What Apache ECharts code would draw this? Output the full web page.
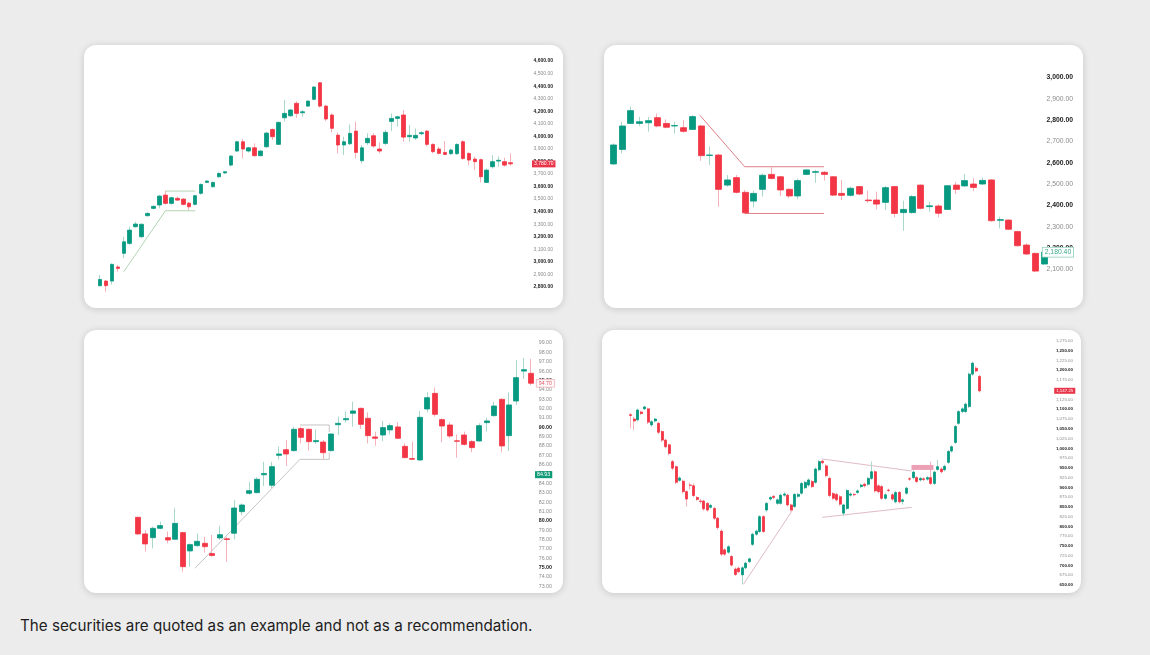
<!DOCTYPE html>
<html>
<head>
<meta charset="utf-8">
<title>Chart patterns</title>
<script src="https://cdn.jsdelivr.net/npm/echarts@6/dist/echarts.min.js"></script>
<style>
  body { margin:0; width:1150px; height:655px; background:#ececec; overflow:hidden;
         font-family: Inter, 'Liberation Sans', sans-serif; }
  .card { position:absolute; width:479px; height:263px; background:#fff; border-radius:12px;
          box-shadow:0 1px 7px rgba(0,0,0,0.16); overflow:hidden; }
  #note { position:absolute; left:20px; top:616px; font-size:15.2px; color:#1d1d1d; }
</style>
</head>
<body>
<div class="card" id="c1" style="left:84px;top:45px"></div>
<div class="card" id="c2" style="left:604px;top:45px"></div>
<div class="card" id="c3" style="left:84px;top:330px"></div>
<div class="card" id="c4" style="left:602px;top:330px"></div>
<div id="note">The securities are quoted as an example and not as a recommendation.</div>
<script type="text/javascript">
// candles are [open, close, low, high], one per session
var p1Candles = [
  [2810,2860,2802,2895],[2847,2810,2762,2855],[2847,2980,2820,2988],[2959,2948,2921,2975],
  [3068,3160,3028,3200],[3147,3253,3134,3280],[3280,3301,3272,3320],[3200,3299,3192,3307],
  [3368,3386,3360,3395],[3426,3442,3418,3450],[3453,3524,3426,3535],[3532,3466,3458,3567],
  [3466,3511,3455,3518],[3506,3492,3485,3520],[3500,3458,3450,3508],[3468,3439,3413,3475],
  [3458,3527,3450,3535],[3546,3617,3535,3625],[3633,3644,3628,3650],[3599,3633,3590,3640],
  [3678,3705,3670,3712],[3708,3718,3703,3722],[3771,3843,3760,3850],[3883,3957,3875,3965],
  [3957,3899,3824,3978],[3883,3909,3870,3915],[3909,3846,3838,3944],[3846,3883,3840,3890],
  [3917,4026,3910,4035],[4055,3997,3971,4063],[3936,4111,3931,4117],[4148,4183,4117,4289],
  [4164,4210,4155,4220],[4263,4183,4148,4281],[4188,4196,4156,4210],[4241,4281,4235,4290],
  [4295,4393,4288,4400],[4427,4241,4230,4432],[4241,4138,4122,4250],[4170,4064,4032,4183],
  [4010,3931,3864,4032],[3931,3957,3851,3997],[3941,4024,3931,4095],[4042,3872,3824,4117],
  [3806,3909,3785,3931],[3949,3984,3931,4024],[4005,3923,3909,4024],[3899,3883,3864,3952],
  [3944,4032,3931,4050],[4119,4143,4042,4183],[4143,4156,4077,4164],[4170,3994,3957,4210],
  [3997,4008,3957,4090],[3987,4008,3971,4063],[4021,4029,4008,4042],[4042,3936,3920,4050],
  [3936,3878,3864,3944],[3899,3864,3856,3917],[3872,3856,3851,3963],[3862,3891,3851,3904],
  [3862,3936,3851,3944],[3957,3824,3811,3970],[3864,3811,3771,3872],[3819,3798,3731,3838],
  [3814,3678,3633,3824],[3633,3731,3628,3744],[3758,3798,3744,3851],[3803,3809,3758,3840],
  [3798,3771,3758,3830],[3790,3781,3766,3864]
];
var p1Lines = [ [[4,2921],[11,3407],[16,3407]], [[11,3540],[11,3564],[16,3564]] ];
var p1Last = 3780.70;

var p2Candles = [
  [2594,2683,2589,2690],[2662,2772,2644,2792],[2784,2844,2781,2862],[2784,2792,2772,2815],
  [2787,2797,2745,2815],[2811,2772,2766,2831],[2784,2766,2761,2803],[2772,2774,2737,2792],
  [2764,2747,2740,2800],[2756,2816,2753,2823],[2772,2633,2609,2777],[2634,2636,2589,2675],
  [2636,2475,2394,2640],[2495,2519,2487,2542],[2530,2461,2456,2542],[2461,2365,2362,2472],
  [2420,2456,2390,2469],[2475,2541,2441,2550],[2545,2526,2522,2581],[2534,2472,2444,2537],
  [2475,2444,2433,2480],[2444,2516,2428,2526],[2545,2566,2542,2569],[2555,2558,2506,2566],
  [2555,2545,2516,2561],[2534,2448,2444,2537],[2456,2447,2425,2519],[2447,2480,2441,2488],
  [2488,2453,2448,2491],[2425,2422,2412,2469],[2425,2406,2381,2464],[2414,2483,2378,2491],
  [2488,2362,2344,2491],[2366,2381,2281,2422],[2366,2441,2361,2448],[2495,2386,2381,2498],
  [2394,2398,2370,2417],[2397,2363,2344,2406],[2381,2492,2378,2495],[2495,2475,2453,2511],
  [2491,2516,2487,2547],[2500,2484,2467,2527],[2500,2517,2495,2531],[2519,2328,2323,2522],
  [2330,2333,2292,2347],[2331,2288,2284,2334],[2277,2211,2206,2281],[2214,2172,2167,2222],
  [2175,2092,2087,2178],[2125,2180,2120,2185]
];
var p2Lines = [ [[9.86,2822],[14.95,2581],[23.97,2581]], [[14.95,2362],[23.97,2362]] ];
var p2Last = 2180.40;

var p3Candles = [
  [80.38,78.6,78.5,80.4],[78.6,77.53,76.71,79.02],[78.2,79.2,77.06,79.38],[79.2,79.49,79.1,79.91],
  [78.2,77.95,77.6,78.85],[78.03,79.73,77.96,81.34],[78.74,75.1,74.57,78.85],[76.78,77.46,75.1,77.6],
  [77.35,77.81,77.24,78.67],[77.6,77.24,76.6,78.3],[76.5,76.3,76.17,78.49],[78.17,78.52,77.95,79.49],
  [78.08,78.0,75.64,78.3],[78.67,81.37,78.03,82.23],[80.98,81.69,80.6,81.87],[82.94,83.22,82.77,84.19],
  [83.01,84.44,82.94,84.65],[84.92,85.06,83.72,86.32],[83.8,85.79,83.5,86.32],[87.0,87.14,86.57,87.93],
  [87.6,87.14,85.86,88.64],[87.5,89.78,87.4,90.06],[89.85,88.92,88.28,90.06],[89.78,88.46,87.5,89.88],
  [88.46,88.57,88.21,89.78],[88.42,87.28,86.57,88.64],[87.5,89.28,87.4,89.35],[90.27,90.42,89.17,91.13],
  [90.8,90.92,90.49,91.66],[91.49,91.74,90.06,92.73],[92.02,90.31,89.81,92.09],[90.95,89.1,88.28,91.59],
  [88.96,88.82,88.03,89.53],[89.17,89.96,88.53,90.67],[89.71,90.17,89.24,90.42],[90.03,88.82,88.75,90.52],
  [87.96,86.75,86.68,88.28],[86.65,86.58,86.5,88.46],[86.5,91.06,86.4,91.74],[91.95,93.16,91.59,93.73],
  [93.62,91.38,91.13,94.23],[90.81,90.13,88.39,90.95],[90.24,89.06,88.81,90.52],[88.55,88.5,86.75,89.24],
  [89.17,88.17,88.03,89.53],[88.46,87.82,87.32,88.64],[88.53,90.17,88.46,90.42],[90.49,90.67,89.53,91.02],
  [91.24,92.27,91.13,92.73],[92.98,88.0,87.32,93.09],[89.1,92.38,87.46,93.73],[92.8,95.3,92.38,97.18],
  [96.0,96.15,95.16,97.43],[95.76,94.7,94.51,97.29]
];
var p3Lines = [ [[7.68,74.93],[21.83,86.57],[25.78,86.57],[25.78,87.3]], [[21.83,90.24],[25.78,90.24],[25.78,89.5]] ];
var p3Last = 94.70;
var p3Ref = 84.93;

var p4Candles = [
  [1086,1084,1051,1090],[1075,1070,1047,1080],[1073,1098,1068,1102],[1093,1089,1085,1096],
  [1101,1106,1098,1108],[1101,1067,1062,1104],[1060,1068,1055,1072],[1070,1075,1066,1078],
  [1064,1041,1036,1068],[1043,1021,1016,1046],[1021,1004,1000,1024],[1009,987,982,1012],
  [966,949,944,970],[953,913,908,956],[918,924,914,928],[916,889,884,920],
  [889,870,851,893],[906,905,895,912],[904,879,875,910],[874,869,866,878],
  [865,864,858,870],[865,845,840,868],[859,842,838,862],[849,854,845,857],
  [846,821,816,850],[821,797,792,824],[788,729,724,792],[740,729,724,744],
  [734,748,730,752],[723,701,697,726],[691,677,673,695],[693,684,680,697],
  [676,694,652,698],[694,706,690,710],[710,717,706,720],[754,780,750,784],
  [780,788,776,792],[787,825,783,829],[825,787,783,829],[842,859,838,863],
  [870,874,866,878],[877,874,870,880],[859,868,855,872],[859,880,855,884],
  [880,883,876,888],[880,855,851,884],[855,842,838,858],[851,882,847,886],
  [877,882,873,886],[885,910,881,914],[899,913,895,917],[906,919,902,923],
  [915,902,898,919],[913,947,909,951],[945,966,941,970],[967,963,959,971],
  [955,930,926,959],[923,879,875,927],[884,872,868,888],[882,868,864,886],
  [876,857,853,880],[834,855,826,858],[846,892,842,896],[880,883,876,887],
  [882,881,877,886],[887,891,883,895],[902,906,898,910],[908,904,900,912],
  [908,923,904,927],[923,940,919,966],[940,891,887,944],[904,889,885,908],
  [902,872,868,906],[872,881,868,885],[893,892,888,897],[881,870,866,885],
  [863,887,859,891],[887,863,859,891],[864,868,856,872],[885,898,881,902],
  [922,921,917,926],[925,939,921,943],[925,915,911,929],[919,923,915,927],
  [922,920,916,926],[921,925,917,929],[925,910,906,966],[910,939,906,943],
  [946,953,942,970],[947,940,936,951],[945,954,941,958],[964,992,960,996],
  [993,1004,989,1008],[1015,1056,1011,1060],[1064,1094,1060,1098],[1094,1101,1090,1105],
  [1094,1113,1090,1117],[1107,1190,1103,1194],[1190,1218,1186,1222],[1205,1198,1194,1210],
  [1184,1147,1143,1188]
];
var p4Lines = [ [[32.3,651.8],[46.4,842.1]], [[54.9,972.6],[80.5,942]], [[54.9,823.3],[80.5,848.9]] ];
var p4Box = [83.6, 951];
var p4Last = 1147.25;

var UP = '#089981', DN = '#f23645';
var WICK_UP = '#a9d8cb', WICK_DN = '#f5b0b8';

function fmt(v) {
  return v.toLocaleString('en-US', { minimumFractionDigits: 2, maximumFractionDigits: 2 });
}

// price tag drawn on the right axis at a given value
function tag(value, style, dist) {
  return {
    yAxis: value,
    lineStyle: { color: 'rgba(0,0,0,0)', width: 0 },
    label: Object.assign({ show: true, position: 'end', distance: dist, formatter: fmt(value),
      fontFamily: 'Liberation Sans', padding: [1, 2], opacity: 1 }, style)
  };
}

function makeChart(id, c) {
  var chart = echarts.init(document.getElementById(id), null, { renderer: 'canvas' });
  var wick = c.candles.map(function (r, i) { return [i, r[0], r[1], r[2], r[3]]; });
  var body = c.candles.map(function (r, i) {
    return [i, r[0], r[1], Math.min(r[0], r[1]), Math.max(r[0], r[1])];
  });
  var series = c.lines.map(function (pts) {
    return { type: 'line', data: pts, symbol: 'none', silent: true, z: 1,
             lineStyle: { color: c.lineColor, width: 0.9 } };
  });
  series.push({
    type: 'candlestick', data: wick, barWidth: 1, z: 2,
    itemStyle: { color: WICK_UP, color0: WICK_DN, borderColor: WICK_UP, borderColor0: WICK_DN, borderWidth: 1 }
  });
  series.push({
    type: 'candlestick', data: body, barWidth: c.bodyWidth, z: 3, clip: false,
    itemStyle: { color: UP, color0: DN, borderColor: UP, borderColor0: DN, borderWidth: 0.8 },
    markLine: {
      symbol: 'none', silent: true, animation: false,
      lineStyle: { color: 'rgba(0,0,0,0)', width: 0 },
      data: c.tags
    },
    markPoint: c.markPoint
  });
  chart.setOption({
    animation: false,
    grid: c.grid,
    xAxis: { type: 'value', min: c.x[0], max: c.x[1], show: false },
    yAxis: {
      type: 'value', position: 'right', min: c.y[0], max: c.y[1], interval: c.y[2],
      axisLine: { show: false }, axisTick: { show: false }, splitLine: { show: false },
      axisLabel: {
        margin: c.labelMargin, align: 'right',
        showMaxLabel: c.showMax, showMinLabel: c.showMin,
        formatter: function (v) {
          return (Math.round(v * 100) % Math.round(c.boldStep * 100) === 0 ? '{b|' : '{n|') + fmt(v) + '}';
        },
        rich: {
          b: { fontFamily: 'Liberation Sans', fontWeight: 'bold', color: '#222', fontSize: c.fontSize },
          n: { fontFamily: 'Liberation Sans', color: '#8c8c8c', fontSize: c.fontSize }
        }
      }
    },
    series: series
  });
}

makeChart('c1', {
  candles: p1Candles, lines: p1Lines, lineColor: '#a9cfa9', bodyWidth: 4,
  grid: { left: 10, right: 46.5, top: 3.5, bottom: 8.5 },
  x: [-1, 70], y: [2700, 4700, 100], boldStep: 200, fontSize: 5, labelMargin: 36.5,
  showMax: false, showMin: false,
  tags: [tag(p1Last, { color: '#fff', backgroundColor: '#e8354a', fontSize: 5 }, 15.5)]
});

makeChart('c2', {
  candles: p2Candles, lines: p2Lines, lineColor: '#d9707c', bodyWidth: 6.5,
  grid: { left: 4.9, right: 34.6, top: 11, bottom: 17.3 },
  x: [-0.5, 49.5], y: [2000, 3100, 100], boldStep: 200, fontSize: 6.8, labelMargin: 24.6,
  showMax: false, showMin: false,
  tags: [tag(p2Last, { color: '#3aa88a', backgroundColor: '#fff', borderColor: '#8fd0bd',
    borderWidth: 0.8, fontSize: 6.8 }, -5.7)]
});

makeChart('c3', {
  candles: p3Candles, lines: p3Lines, lineColor: '#bdbdbd', bodyWidth: 5.5,
  grid: { left: 46.6, right: 24.4, top: 3.64, bottom: 6.66 },
  x: [-1, 54], y: [73, 100, 1], boldStep: 5, fontSize: 5.3, labelMargin: 13.4,
  showMax: false, showMin: true,
  tags: [
    tag(p3Last, { color: '#e8566a', backgroundColor: 'rgba(255,255,255,0.85)', borderColor: '#f3b3bc',
      borderWidth: 0.8, fontSize: 5.3 }, -1.9),
    tag(p3Ref, { color: '#fff', backgroundColor: '#0f9a78', fontSize: 5.3 }, -3.6)
  ]
});

makeChart('c4', {
  candles: p4Candles, lines: p4Lines, lineColor: '#ddb3c0', bodyWidth: 2.5,
  grid: { left: 25.2, right: 97.8, top: 10.9, bottom: 8 },
  x: [-1, 101], y: [650, 1275, 25], boldStep: 50, fontSize: 4.4, labelMargin: 89.8,
  showMax: true, showMin: true,
  tags: [tag(p4Last, { color: '#fff', backgroundColor: '#e8354a', fontSize: 4.4 }, 71)],
  markPoint: {
    silent: true, animation: false, symbol: 'rect', symbolSize: [22, 5],
    itemStyle: { color: '#eba0b6' }, label: { show: false },
    data: [{ coord: p4Box }]
  }
});
</script>
</body>
</html>
